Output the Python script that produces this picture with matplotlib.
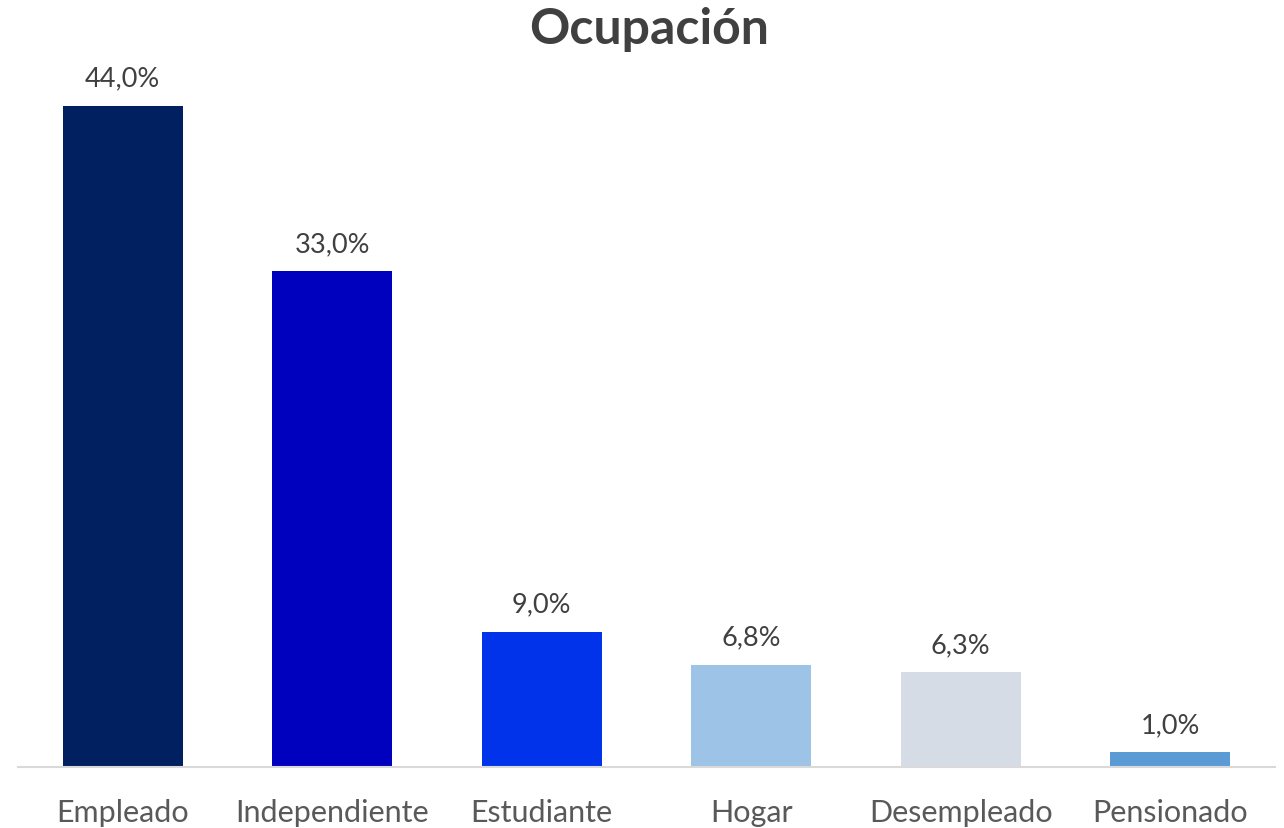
import matplotlib.pyplot as plt

# Data
categories = ['Empleado', 'Independiente', 'Estudiante', 'Hogar', 'Desempleado', 'Pensionado']
values = [44.0, 33.0, 9.0, 6.8, 6.3, 1.0]
labels = ['44,0%', '33,0%', '9,0%', '6,8%', '6,3%', '1,0%']
colors = ['#002060', '#0000BF', '#0033EA', '#9DC3E6', '#D6DCE5', '#5B9BD5']

plt.rcParams['font.family'] = ['Lato', 'DejaVu Sans']

fig = plt.figure(figsize=(12.84, 8.29), dpi=100)
ax = fig.add_axes([18 / 1284, 61 / 829, 1257 / 1284, 708 / 829])

x = range(len(categories))
bars = ax.bar(x, values, width=0.573, color=colors)

for b, lab in zip(bars, labels):
    ax.text(b.get_x() + b.get_width() / 2, b.get_height() + 1.0, lab,
            ha='center', va='bottom', fontsize=19.5, color='#404040')

ax.set_xlim(-0.5, 5.5)
ax.set_ylim(0, 47.1)
ax.set_xticks(list(x))
ax.set_xticklabels(categories, fontsize=22, color='#595959')
ax.tick_params(axis='x', length=0, pad=22)
ax.set_yticks([])
for s in ['top', 'right', 'left']:
    ax.spines[s].set_visible(False)
ax.spines['bottom'].set_color('#D9D9D9')
ax.spines['bottom'].set_linewidth(1.5)

fig.text(649 / 1284, 1 - 30 / 829, 'Ocupación', ha='center', va='center',
         fontsize=36, fontweight='bold', color='#404040')

fig.savefig('out.png', dpi=100)
